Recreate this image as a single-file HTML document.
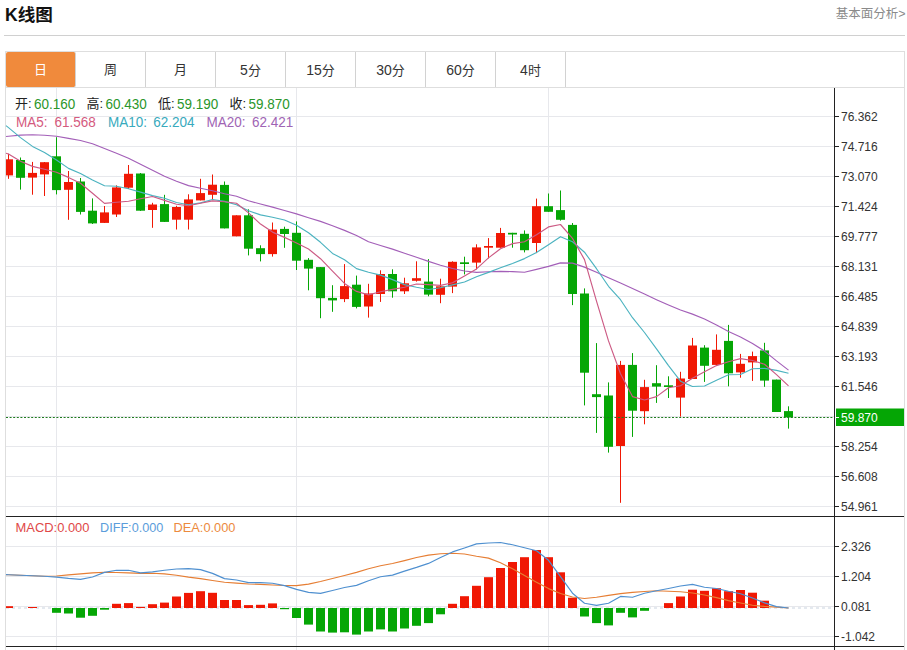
<!DOCTYPE html>
<html><head><meta charset="utf-8"><title>K线图</title>
<style>
html,body{margin:0;padding:0;background:#fff;}
body{width:907px;height:650px;position:relative;overflow:hidden;font-family:"Liberation Sans","Noto Sans CJK SC",sans-serif;}
.title{position:absolute;left:5px;top:3px;font-size:17.6px;font-weight:bold;color:#111;line-height:24px;}
.more{position:absolute;right:1.5px;top:6px;font-size:12.5px;color:#8a8a8a;line-height:16px;}
.hr{position:absolute;left:4px;top:35px;width:901px;height:1px;background:#d0d0d0;}
.box{position:absolute;left:5px;top:51px;width:898px;height:620px;border:1px solid #dedede;}
.tabbar{position:absolute;left:5px;top:87px;width:900px;height:1px;background:#dedede;}
.tab{position:absolute;top:52px;width:69px;height:35px;border-right:1px solid #d2d2d2;text-align:center;line-height:36px;font-size:13px;color:#333;}
.tab.act{background:#f08a3c;color:#fff;width:69px;border-radius:2px;}
.tab .d{font-size:14px;}
svg{position:absolute;left:0;top:0;}
svg text{font-family:"Liberation Sans","Noto Sans CJK SC",sans-serif;}
</style></head><body>
<div class="title">K线图</div>
<div class="more">基本面分析&gt;</div>
<div class="hr"></div>
<div class="box"></div>
<div class="tabbar"></div>
<div class="tab act" style="left:6px">日</div><div class="tab" style="left:76px">周</div><div class="tab" style="left:146px">月</div><div class="tab" style="left:216px"><span class="d">5</span>分</div><div class="tab" style="left:286px"><span class="d">15</span>分</div><div class="tab" style="left:356px"><span class="d">30</span>分</div><div class="tab" style="left:426px"><span class="d">60</span>分</div><div class="tab" style="left:496px"><span class="d">4</span>时</div>
<svg width="907" height="650" viewBox="0 0 907 650">
<defs><clipPath id="cp"><rect x="6" y="88" width="828" height="562"/></clipPath></defs>
<line x1="6" y1="116.5" x2="834" y2="116.5" stroke="#e7e8ec" stroke-width="1"/>
<line x1="6" y1="146.5" x2="834" y2="146.5" stroke="#e7e8ec" stroke-width="1"/>
<line x1="6" y1="176.5" x2="834" y2="176.5" stroke="#e7e8ec" stroke-width="1"/>
<line x1="6" y1="206.5" x2="834" y2="206.5" stroke="#e7e8ec" stroke-width="1"/>
<line x1="6" y1="236.5" x2="834" y2="236.5" stroke="#e7e8ec" stroke-width="1"/>
<line x1="6" y1="266.5" x2="834" y2="266.5" stroke="#e7e8ec" stroke-width="1"/>
<line x1="6" y1="296.5" x2="834" y2="296.5" stroke="#e7e8ec" stroke-width="1"/>
<line x1="6" y1="326.5" x2="834" y2="326.5" stroke="#e7e8ec" stroke-width="1"/>
<line x1="6" y1="356.5" x2="834" y2="356.5" stroke="#e7e8ec" stroke-width="1"/>
<line x1="6" y1="386.5" x2="834" y2="386.5" stroke="#e7e8ec" stroke-width="1"/>
<line x1="6" y1="416.5" x2="834" y2="416.5" stroke="#e7e8ec" stroke-width="1"/>
<line x1="6" y1="446.5" x2="834" y2="446.5" stroke="#e7e8ec" stroke-width="1"/>
<line x1="6" y1="476.5" x2="834" y2="476.5" stroke="#e7e8ec" stroke-width="1"/>
<line x1="6" y1="506.5" x2="834" y2="506.5" stroke="#e7e8ec" stroke-width="1"/>
<line x1="56.5" y1="88" x2="56.5" y2="650" stroke="#e7e8ec" stroke-width="1"/>
<line x1="296.5" y1="88" x2="296.5" y2="650" stroke="#e7e8ec" stroke-width="1"/>
<line x1="548.5" y1="88" x2="548.5" y2="650" stroke="#e7e8ec" stroke-width="1"/>
<line x1="6" y1="546.5" x2="834" y2="546.5" stroke="#e7e8ec" stroke-width="1"/>
<line x1="6" y1="576.5" x2="834" y2="576.5" stroke="#e7e8ec" stroke-width="1"/>
<line x1="6" y1="606.5" x2="834" y2="606.5" stroke="#e7e8ec" stroke-width="1"/>
<line x1="6" y1="636.5" x2="834" y2="636.5" stroke="#e7e8ec" stroke-width="1"/>
<rect x="8" y="153.8" width="1" height="25.0" fill="#f01804"/>
<rect x="6" y="159.3" width="7" height="16.1" fill="#f01804"/>
<rect x="20" y="157.5" width="1" height="32.1" fill="#05a605"/>
<rect x="16" y="160.0" width="9" height="17.8" fill="#05a605"/>
<rect x="32" y="161.9" width="1" height="32.8" fill="#f01804"/>
<rect x="28" y="172.9" width="9" height="4.7" fill="#f01804"/>
<rect x="44" y="162.0" width="1" height="34.0" fill="#f01804"/>
<rect x="40" y="162.2" width="9" height="12.2" fill="#f01804"/>
<rect x="56" y="137.2" width="1" height="57.2" fill="#05a605"/>
<rect x="52" y="156.3" width="9" height="33.8" fill="#05a605"/>
<rect x="68" y="171.0" width="1" height="48.8" fill="#f01804"/>
<rect x="64" y="182.0" width="9" height="7.8" fill="#f01804"/>
<rect x="80" y="178.0" width="1" height="36.5" fill="#05a605"/>
<rect x="76" y="181.5" width="9" height="30.4" fill="#05a605"/>
<rect x="92" y="198.4" width="1" height="25.6" fill="#05a605"/>
<rect x="88" y="210.7" width="9" height="12.7" fill="#05a605"/>
<rect x="104" y="206.0" width="1" height="17.0" fill="#f01804"/>
<rect x="100" y="212.4" width="9" height="10.5" fill="#f01804"/>
<rect x="116" y="185.3" width="1" height="31.7" fill="#f01804"/>
<rect x="112" y="187.4" width="9" height="27.1" fill="#f01804"/>
<rect x="128" y="165.0" width="1" height="24.0" fill="#f01804"/>
<rect x="124" y="173.8" width="9" height="13.9" fill="#f01804"/>
<rect x="140" y="173.0" width="1" height="38.0" fill="#05a605"/>
<rect x="136" y="173.5" width="9" height="37.2" fill="#05a605"/>
<rect x="152" y="202.8" width="1" height="25.0" fill="#f01804"/>
<rect x="148" y="204.5" width="9" height="5.5" fill="#f01804"/>
<rect x="164" y="194.8" width="1" height="27.2" fill="#05a605"/>
<rect x="160" y="204.1" width="9" height="17.8" fill="#05a605"/>
<rect x="176" y="205.8" width="1" height="23.7" fill="#f01804"/>
<rect x="172" y="207.0" width="9" height="12.7" fill="#f01804"/>
<rect x="188" y="194.3" width="1" height="35.2" fill="#f01804"/>
<rect x="184" y="199.4" width="9" height="20.3" fill="#f01804"/>
<rect x="200" y="178.8" width="1" height="21.6" fill="#f01804"/>
<rect x="196" y="193.1" width="9" height="7.3" fill="#f01804"/>
<rect x="212" y="174.5" width="1" height="24.9" fill="#f01804"/>
<rect x="208" y="184.7" width="9" height="10.1" fill="#f01804"/>
<rect x="224" y="181.5" width="1" height="46.9" fill="#05a605"/>
<rect x="220" y="184.9" width="9" height="43.5" fill="#05a605"/>
<rect x="236" y="215.3" width="1" height="21.0" fill="#f01804"/>
<rect x="232" y="215.3" width="9" height="21.0" fill="#f01804"/>
<rect x="248" y="209.3" width="1" height="46.1" fill="#05a605"/>
<rect x="244" y="215.3" width="9" height="33.4" fill="#05a605"/>
<rect x="260" y="245.3" width="1" height="16.1" fill="#05a605"/>
<rect x="256" y="248.2" width="9" height="5.9" fill="#05a605"/>
<rect x="272" y="222.5" width="1" height="34.1" fill="#f01804"/>
<rect x="268" y="229.6" width="9" height="24.5" fill="#f01804"/>
<rect x="284" y="226.7" width="1" height="21.1" fill="#05a605"/>
<rect x="280" y="228.9" width="9" height="5.1" fill="#05a605"/>
<rect x="296" y="221.4" width="1" height="48.6" fill="#05a605"/>
<rect x="292" y="232.8" width="9" height="27.9" fill="#05a605"/>
<rect x="308" y="258.1" width="1" height="32.2" fill="#05a605"/>
<rect x="304" y="259.8" width="9" height="8.8" fill="#05a605"/>
<rect x="320" y="267.0" width="1" height="51.2" fill="#05a605"/>
<rect x="316" y="267.1" width="9" height="31.1" fill="#05a605"/>
<rect x="332" y="285.2" width="1" height="26.6" fill="#05a605"/>
<rect x="328" y="297.9" width="9" height="2.5" fill="#05a605"/>
<rect x="344" y="264.1" width="1" height="38.0" fill="#f01804"/>
<rect x="340" y="286.1" width="9" height="13.0" fill="#f01804"/>
<rect x="356" y="275.6" width="1" height="32.8" fill="#05a605"/>
<rect x="352" y="284.7" width="9" height="22.2" fill="#05a605"/>
<rect x="368" y="283.8" width="1" height="33.8" fill="#f01804"/>
<rect x="364" y="293.5" width="9" height="13.0" fill="#f01804"/>
<rect x="380" y="270.3" width="1" height="31.6" fill="#f01804"/>
<rect x="376" y="274.0" width="9" height="20.0" fill="#f01804"/>
<rect x="392" y="269.3" width="1" height="28.4" fill="#05a605"/>
<rect x="388" y="274.0" width="9" height="17.3" fill="#05a605"/>
<rect x="404" y="277.7" width="1" height="16.3" fill="#f01804"/>
<rect x="400" y="283.3" width="9" height="8.0" fill="#f01804"/>
<rect x="416" y="261.3" width="1" height="20.3" fill="#f01804"/>
<rect x="412" y="278.2" width="9" height="2.6" fill="#f01804"/>
<rect x="428" y="259.1" width="1" height="37.2" fill="#05a605"/>
<rect x="424" y="281.6" width="9" height="13.0" fill="#05a605"/>
<rect x="440" y="278.7" width="1" height="24.5" fill="#f01804"/>
<rect x="436" y="286.3" width="9" height="8.5" fill="#f01804"/>
<rect x="452" y="261.3" width="1" height="31.8" fill="#f01804"/>
<rect x="448" y="261.8" width="9" height="24.8" fill="#f01804"/>
<rect x="464" y="256.7" width="1" height="17.7" fill="#05a605"/>
<rect x="460" y="262.3" width="9" height="1.7" fill="#05a605"/>
<rect x="476" y="244.3" width="1" height="25.1" fill="#f01804"/>
<rect x="472" y="247.4" width="9" height="15.2" fill="#f01804"/>
<rect x="488" y="238.1" width="1" height="20.3" fill="#f01804"/>
<rect x="484" y="246.0" width="9" height="1.7" fill="#f01804"/>
<rect x="500" y="227.9" width="1" height="19.8" fill="#f01804"/>
<rect x="496" y="233.0" width="9" height="14.7" fill="#f01804"/>
<rect x="512" y="232.8" width="1" height="14.9" fill="#05a605"/>
<rect x="508" y="232.8" width="9" height="1.7" fill="#05a605"/>
<rect x="524" y="230.4" width="1" height="22.0" fill="#05a605"/>
<rect x="520" y="233.8" width="9" height="16.4" fill="#05a605"/>
<rect x="536" y="198.6" width="1" height="54.5" fill="#f01804"/>
<rect x="532" y="206.2" width="9" height="36.8" fill="#f01804"/>
<rect x="548" y="193.5" width="1" height="18.3" fill="#05a605"/>
<rect x="544" y="206.2" width="9" height="5.6" fill="#05a605"/>
<rect x="560" y="190.5" width="1" height="30.1" fill="#05a605"/>
<rect x="556" y="210.1" width="9" height="9.7" fill="#05a605"/>
<rect x="572" y="223.0" width="1" height="82.1" fill="#05a605"/>
<rect x="568" y="224.9" width="9" height="69.1" fill="#05a605"/>
<rect x="584" y="288.4" width="1" height="117.0" fill="#05a605"/>
<rect x="580" y="293.5" width="9" height="79.2" fill="#05a605"/>
<rect x="596" y="343.1" width="1" height="89.8" fill="#05a605"/>
<rect x="592" y="394.2" width="9" height="2.9" fill="#05a605"/>
<rect x="608" y="382.4" width="1" height="70.2" fill="#05a605"/>
<rect x="604" y="395.5" width="9" height="51.3" fill="#05a605"/>
<rect x="620" y="360.9" width="1" height="141.9" fill="#f01804"/>
<rect x="616" y="364.9" width="9" height="81.1" fill="#f01804"/>
<rect x="632" y="353.1" width="1" height="83.8" fill="#05a605"/>
<rect x="628" y="364.9" width="9" height="45.8" fill="#05a605"/>
<rect x="644" y="379.8" width="1" height="44.5" fill="#f01804"/>
<rect x="640" y="387.1" width="9" height="24.1" fill="#f01804"/>
<rect x="656" y="365.2" width="1" height="37.7" fill="#05a605"/>
<rect x="652" y="383.2" width="9" height="3.4" fill="#05a605"/>
<rect x="668" y="376.3" width="1" height="21.7" fill="#05a605"/>
<rect x="664" y="385.3" width="9" height="1.7" fill="#05a605"/>
<rect x="680" y="371.8" width="1" height="44.8" fill="#f01804"/>
<rect x="676" y="378.5" width="9" height="19.1" fill="#f01804"/>
<rect x="692" y="337.9" width="1" height="41.1" fill="#f01804"/>
<rect x="688" y="345.5" width="9" height="33.5" fill="#f01804"/>
<rect x="704" y="345.2" width="1" height="36.7" fill="#05a605"/>
<rect x="700" y="347.6" width="9" height="18.2" fill="#05a605"/>
<rect x="716" y="334.4" width="1" height="30.6" fill="#f01804"/>
<rect x="712" y="349.8" width="9" height="15.1" fill="#f01804"/>
<rect x="728" y="324.9" width="1" height="61.4" fill="#05a605"/>
<rect x="724" y="340.9" width="9" height="32.4" fill="#05a605"/>
<rect x="740" y="353.9" width="1" height="23.8" fill="#f01804"/>
<rect x="736" y="363.8" width="9" height="8.6" fill="#f01804"/>
<rect x="752" y="351.6" width="1" height="29.3" fill="#f01804"/>
<rect x="748" y="356.1" width="9" height="6.3" fill="#f01804"/>
<rect x="764" y="342.8" width="1" height="44.0" fill="#05a605"/>
<rect x="760" y="350.4" width="9" height="30.2" fill="#05a605"/>
<rect x="776" y="379.6" width="1" height="32.4" fill="#05a605"/>
<rect x="772" y="379.6" width="9" height="32.4" fill="#05a605"/>
<rect x="788" y="406.3" width="1" height="22.3" fill="#05a605"/>
<rect x="784" y="411.1" width="9" height="6.3" fill="#05a605"/>
<line x1="6" y1="417.5" x2="834" y2="417.5" stroke="#1e7a1e" stroke-width="1" stroke-dasharray="2 1.6"/>
<polyline points="6.0,136.5 8.5,136.2 20.5,135.1 32.5,134.7 44.5,135.3 56.5,136.3 68.5,138.4 80.5,140.5 92.5,143.8 104.5,148.5 116.5,153.3 128.5,158.2 140.5,164.2 152.5,170.3 164.5,176.3 176.5,181.2 188.5,185.6 200.5,188.2 212.5,190.8 224.5,193.7 236.5,196.3 248.5,200.8 260.5,204.0 272.5,207.1 284.5,210.5 296.5,213.9 308.5,217.7 320.5,221.4 332.5,225.8 344.5,230.4 356.5,235.5 368.5,241.8 380.5,245.5 392.5,249.1 404.5,253.2 416.5,257.3 428.5,261.4 440.5,265.3 452.5,268.5 464.5,271.0 476.5,272.4 488.5,271.7 500.5,271.4 512.5,271.6 524.5,272.2 536.5,269.4 548.5,266.4 560.5,262.9 572.5,263.1 584.5,267.1 596.5,272.3 608.5,277.7 620.5,283.1 632.5,288.5 644.5,294.1 656.5,299.7 668.5,305.0 680.5,310.0 692.5,314.1 704.5,319.0 716.5,325.0 728.5,331.6 740.5,337.1 752.5,343.4 764.5,351.1 776.5,360.9 788.5,370.1" fill="none" stroke="#a35fb8" stroke-width="1.15" stroke-linejoin="round"/>
<polyline points="6.0,125.6 8.5,127.6 20.5,137.6 32.5,146.4 44.5,152.6 56.5,160.0 68.5,168.4 80.5,173.5 92.5,179.9 104.5,185.8 116.5,186.3 128.5,188.7 140.5,192.1 152.5,195.6 164.5,198.3 176.5,202.5 188.5,204.7 200.5,202.9 212.5,199.5 224.5,201.4 236.5,204.8 248.5,210.7 260.5,214.9 272.5,217.2 284.5,220.0 296.5,225.3 308.5,232.7 320.5,242.3 332.5,253.4 344.5,259.8 356.5,268.6 368.5,272.3 380.5,275.1 392.5,279.6 404.5,284.6 416.5,287.2 428.5,289.5 440.5,287.7 452.5,284.9 464.5,282.0 476.5,276.8 488.5,272.4 500.5,267.8 512.5,263.5 524.5,258.6 536.5,252.5 548.5,244.7 560.5,236.7 572.5,241.7 584.5,252.2 596.5,268.7 608.5,286.3 620.5,299.7 632.5,317.7 644.5,332.5 656.5,348.9 668.5,365.6 680.5,381.2 692.5,386.5 704.5,386.0 716.5,380.3 728.5,374.8 740.5,374.5 752.5,368.7 764.5,368.4 776.5,370.4 788.5,373.3" fill="none" stroke="#4cb3c0" stroke-width="1.15" stroke-linejoin="round"/>
<polyline points="6.0,153.2 8.5,154.0 20.5,161.3 32.5,166.4 44.5,169.2 56.5,172.3 68.5,177.4 80.5,183.3 92.5,193.2 104.5,203.4 116.5,202.3 128.5,201.2 140.5,198.8 152.5,196.5 164.5,200.4 176.5,204.3 188.5,205.7 200.5,203.2 212.5,200.9 224.5,201.7 236.5,203.2 248.5,212.9 260.5,224.1 272.5,232.1 284.5,237.4 296.5,243.0 308.5,249.0 320.5,258.7 332.5,271.1 344.5,283.4 356.5,291.4 368.5,294.9 380.5,291.8 392.5,289.4 404.5,287.2 416.5,284.0 428.5,284.6 440.5,285.4 452.5,282.8 464.5,276.0 476.5,268.9 488.5,257.9 500.5,248.7 512.5,243.6 524.5,241.7 536.5,234.8 548.5,226.9 560.5,224.5 572.5,238.4 584.5,259.6 596.5,301.2 608.5,340.9 620.5,373.8 632.5,396.6 644.5,400.0 656.5,396.6 668.5,387.7 680.5,385.7 692.5,378.3 704.5,371.7 716.5,365.6 728.5,361.7 740.5,358.6 752.5,360.5 764.5,364.3 776.5,374.6 788.5,385.9" fill="none" stroke="#cc5a84" stroke-width="1.15" stroke-linejoin="round"/>
<line x1="6" y1="608" x2="834" y2="608" stroke="#c9d3df" stroke-width="1" stroke-dasharray="3 3"/>
<rect x="6" y="606.2" width="7" height="1.8" fill="#f01804"/>
<rect x="28" y="607.0" width="9" height="1.0" fill="#f01804"/>
<rect x="52" y="608" width="9" height="4.8" fill="#05a605"/>
<rect x="64" y="608" width="9" height="5.5" fill="#05a605"/>
<rect x="76" y="608" width="9" height="9.7" fill="#05a605"/>
<rect x="88" y="608" width="9" height="7.8" fill="#05a605"/>
<rect x="100" y="608" width="9" height="1.7" fill="#05a605"/>
<rect x="112" y="603.8" width="9" height="4.2" fill="#f01804"/>
<rect x="124" y="603.1" width="9" height="4.9" fill="#f01804"/>
<rect x="136" y="606.9" width="9" height="1.1" fill="#f01804"/>
<rect x="148" y="604.2" width="9" height="3.8" fill="#f01804"/>
<rect x="160" y="602.6" width="9" height="5.4" fill="#f01804"/>
<rect x="172" y="596.5" width="9" height="11.5" fill="#f01804"/>
<rect x="184" y="592.9" width="9" height="15.1" fill="#f01804"/>
<rect x="196" y="591.2" width="9" height="16.8" fill="#f01804"/>
<rect x="208" y="592.8" width="9" height="15.2" fill="#f01804"/>
<rect x="220" y="600.0" width="9" height="8.0" fill="#f01804"/>
<rect x="232" y="600.0" width="9" height="8.0" fill="#f01804"/>
<rect x="244" y="605.1" width="9" height="2.9" fill="#f01804"/>
<rect x="256" y="604.8" width="9" height="3.2" fill="#f01804"/>
<rect x="268" y="603.4" width="9" height="4.6" fill="#f01804"/>
<rect x="280" y="608" width="9" height="1.2" fill="#05a605"/>
<rect x="292" y="608" width="9" height="10.0" fill="#05a605"/>
<rect x="304" y="608" width="9" height="16.6" fill="#05a605"/>
<rect x="316" y="608" width="9" height="23.5" fill="#05a605"/>
<rect x="328" y="608" width="9" height="24.6" fill="#05a605"/>
<rect x="340" y="608" width="9" height="24.3" fill="#05a605"/>
<rect x="352" y="608" width="9" height="26.6" fill="#05a605"/>
<rect x="364" y="608" width="9" height="23.5" fill="#05a605"/>
<rect x="376" y="608" width="9" height="21.4" fill="#05a605"/>
<rect x="388" y="608" width="9" height="23.5" fill="#05a605"/>
<rect x="400" y="608" width="9" height="20.5" fill="#05a605"/>
<rect x="412" y="608" width="9" height="17.8" fill="#05a605"/>
<rect x="424" y="608" width="9" height="15.1" fill="#05a605"/>
<rect x="436" y="608" width="9" height="6.3" fill="#05a605"/>
<rect x="448" y="603.8" width="9" height="4.2" fill="#f01804"/>
<rect x="460" y="596.2" width="9" height="11.8" fill="#f01804"/>
<rect x="472" y="585.8" width="9" height="22.2" fill="#f01804"/>
<rect x="484" y="577.2" width="9" height="30.8" fill="#f01804"/>
<rect x="496" y="568.0" width="9" height="40.0" fill="#f01804"/>
<rect x="508" y="562.0" width="9" height="46.0" fill="#f01804"/>
<rect x="520" y="557.2" width="9" height="50.8" fill="#f01804"/>
<rect x="532" y="550.0" width="9" height="58.0" fill="#f01804"/>
<rect x="544" y="557.2" width="9" height="50.8" fill="#f01804"/>
<rect x="556" y="572.3" width="9" height="35.7" fill="#f01804"/>
<rect x="568" y="597.7" width="9" height="10.3" fill="#f01804"/>
<rect x="580" y="608" width="9" height="8.5" fill="#05a605"/>
<rect x="592" y="608" width="9" height="15.1" fill="#05a605"/>
<rect x="604" y="608" width="9" height="17.4" fill="#05a605"/>
<rect x="616" y="608" width="9" height="4.8" fill="#05a605"/>
<rect x="628" y="608" width="9" height="9.4" fill="#05a605"/>
<rect x="640" y="608" width="9" height="2.8" fill="#05a605"/>
<rect x="664" y="603.1" width="9" height="4.9" fill="#f01804"/>
<rect x="676" y="596.5" width="9" height="11.5" fill="#f01804"/>
<rect x="688" y="589.7" width="9" height="18.3" fill="#f01804"/>
<rect x="700" y="590.8" width="9" height="17.2" fill="#f01804"/>
<rect x="712" y="588.2" width="9" height="19.8" fill="#f01804"/>
<rect x="724" y="591.2" width="9" height="16.8" fill="#f01804"/>
<rect x="736" y="590.0" width="9" height="18.0" fill="#f01804"/>
<rect x="748" y="592.7" width="9" height="15.3" fill="#f01804"/>
<rect x="760" y="600.7" width="9" height="7.3" fill="#f01804"/>
<polyline points="6.0,574.6 8.5,574.7 20.5,575.3 32.5,575.8 44.5,576.3 56.5,576.0 68.5,574.9 80.5,573.9 92.5,572.9 104.5,572.3 116.5,572.5 128.5,572.9 140.5,573.4 152.5,573.2 164.5,573.9 176.5,575.3 188.5,577.1 200.5,578.6 212.5,580.5 224.5,582.3 236.5,583.1 248.5,584.0 260.5,584.4 272.5,585.0 284.5,585.5 296.5,585.6 308.5,584.1 320.5,581.5 332.5,578.5 344.5,575.5 356.5,572.4 368.5,568.8 380.5,565.7 392.5,563.5 404.5,560.6 416.5,557.5 428.5,555.1 440.5,553.7 452.5,553.2 464.5,554.0 476.5,556.2 488.5,558.1 500.5,562.8 512.5,568.8 524.5,575.6 536.5,582.3 548.5,588.6 560.5,593.5 572.5,597.0 584.5,598.5 596.5,597.2 608.5,595.4 620.5,593.6 632.5,592.4 644.5,591.5 656.5,590.8 668.5,591.2 680.5,591.7 692.5,593.0 704.5,595.0 716.5,597.6 728.5,600.6 740.5,603.0 752.5,605.2 764.5,606.4 776.5,607.1 788.5,608.0" fill="none" stroke="#e67e34" stroke-width="1.15" stroke-linejoin="round"/>
<polyline points="6.0,574.6 8.5,574.7 20.5,575.3 32.5,575.8 44.5,576.3 56.5,577.1 68.5,578.4 80.5,579.4 92.5,577.0 104.5,572.4 116.5,570.3 128.5,570.3 140.5,572.9 152.5,571.9 164.5,570.3 176.5,569.0 188.5,568.6 200.5,569.6 212.5,573.4 224.5,578.6 236.5,580.0 248.5,582.6 260.5,582.6 272.5,583.3 284.5,585.6 296.5,589.4 308.5,592.4 320.5,593.4 332.5,590.5 344.5,587.5 356.5,585.4 368.5,580.7 380.5,576.8 392.5,575.1 404.5,571.1 416.5,567.4 428.5,563.4 440.5,557.4 452.5,551.9 464.5,548.0 476.5,543.9 488.5,543.0 500.5,542.5 512.5,544.8 524.5,547.8 536.5,550.8 548.5,560.3 560.5,576.7 572.5,593.2 584.5,603.2 596.5,605.4 608.5,603.3 620.5,596.4 632.5,597.3 644.5,593.3 656.5,590.8 668.5,588.5 680.5,586.0 692.5,584.4 704.5,587.2 716.5,588.5 728.5,591.3 740.5,593.8 752.5,598.0 764.5,602.9 776.5,606.6 788.5,608.0" fill="none" stroke="#4f90d0" stroke-width="1.15" stroke-linejoin="round"/>
<line x1="834.5" y1="88" x2="834.5" y2="650" stroke="#222" stroke-width="1"/>
<line x1="6" y1="516.5" x2="904" y2="516.5" stroke="#222" stroke-width="1"/>
<line x1="6" y1="646.5" x2="904" y2="646.5" stroke="#222" stroke-width="1"/>
<line x1="835" y1="116.5" x2="839" y2="116.5" stroke="#222" stroke-width="1"/>
<line x1="835" y1="146.5" x2="839" y2="146.5" stroke="#222" stroke-width="1"/>
<line x1="835" y1="176.5" x2="839" y2="176.5" stroke="#222" stroke-width="1"/>
<line x1="835" y1="206.5" x2="839" y2="206.5" stroke="#222" stroke-width="1"/>
<line x1="835" y1="236.5" x2="839" y2="236.5" stroke="#222" stroke-width="1"/>
<line x1="835" y1="266.5" x2="839" y2="266.5" stroke="#222" stroke-width="1"/>
<line x1="835" y1="296.5" x2="839" y2="296.5" stroke="#222" stroke-width="1"/>
<line x1="835" y1="326.5" x2="839" y2="326.5" stroke="#222" stroke-width="1"/>
<line x1="835" y1="356.5" x2="839" y2="356.5" stroke="#222" stroke-width="1"/>
<line x1="835" y1="386.5" x2="839" y2="386.5" stroke="#222" stroke-width="1"/>
<line x1="835" y1="446.5" x2="839" y2="446.5" stroke="#222" stroke-width="1"/>
<line x1="835" y1="476.5" x2="839" y2="476.5" stroke="#222" stroke-width="1"/>
<line x1="835" y1="506.5" x2="839" y2="506.5" stroke="#222" stroke-width="1"/>
<line x1="835" y1="546.5" x2="839" y2="546.5" stroke="#222" stroke-width="1"/>
<line x1="835" y1="576.5" x2="839" y2="576.5" stroke="#222" stroke-width="1"/>
<line x1="835" y1="606.5" x2="839" y2="606.5" stroke="#222" stroke-width="1"/>
<line x1="835" y1="636.5" x2="839" y2="636.5" stroke="#222" stroke-width="1"/>
<rect x="836" y="408.5" width="68" height="17.5" fill="#05a605"/>
<line x1="835" y1="417.5" x2="839" y2="417.5" stroke="#fff" stroke-width="1"/>
<text x="841" y="120.7" font-size="12" fill="#333">76.362</text>
<text x="841" y="150.7" font-size="12" fill="#333">74.716</text>
<text x="841" y="180.7" font-size="12" fill="#333">73.070</text>
<text x="841" y="210.7" font-size="12" fill="#333">71.424</text>
<text x="841" y="240.7" font-size="12" fill="#333">69.777</text>
<text x="841" y="270.7" font-size="12" fill="#333">68.131</text>
<text x="841" y="300.7" font-size="12" fill="#333">66.485</text>
<text x="841" y="330.7" font-size="12" fill="#333">64.839</text>
<text x="841" y="360.7" font-size="12" fill="#333">63.193</text>
<text x="841" y="390.7" font-size="12" fill="#333">61.546</text>
<text x="841" y="450.7" font-size="12" fill="#333">58.254</text>
<text x="841" y="480.7" font-size="12" fill="#333">56.608</text>
<text x="841" y="510.7" font-size="12" fill="#333">54.961</text>
<text x="841" y="550.7" font-size="12" fill="#333">2.326</text>
<text x="841" y="580.7" font-size="12" fill="#333">1.204</text>
<text x="841" y="610.7" font-size="12" fill="#333">0.081</text>
<text x="841" y="640.7" font-size="12" fill="#333">-1.042</text>
<text x="841" y="421.7" font-size="12" fill="#fff">59.870</text>
<text x="15" y="108" font-size="13" fill="#222">开:</text>
<text x="34" y="109.2" font-size="13.5" fill="#2a962a" transform="matrix(1,0,0,1.07,0,-7.64)">60.160</text>
<text x="86.5" y="108" font-size="13" fill="#222">高:</text>
<text x="105.5" y="109.2" font-size="13.5" fill="#2a962a" transform="matrix(1,0,0,1.07,0,-7.64)">60.430</text>
<text x="158" y="108" font-size="13" fill="#222">低:</text>
<text x="177" y="109.2" font-size="13.5" fill="#2a962a" transform="matrix(1,0,0,1.07,0,-7.64)">59.190</text>
<text x="229.5" y="108" font-size="13" fill="#222">收:</text>
<text x="248.5" y="109.2" font-size="13.5" fill="#2a962a" transform="matrix(1,0,0,1.07,0,-7.64)">59.870</text>
<text x="16" y="127.2" font-size="13.5" fill="#d45a7e" transform="matrix(1,0,0,1.07,0,-8.90)">MA5:</text>
<text x="54.5" y="127.2" font-size="13.5" fill="#d45a7e" transform="matrix(1,0,0,1.07,0,-8.90)">61.568</text>
<text x="108" y="127.2" font-size="13.5" fill="#38aabd" transform="matrix(1,0,0,1.07,0,-8.90)">MA10:</text>
<text x="153.3" y="127.2" font-size="13.5" fill="#38aabd" transform="matrix(1,0,0,1.07,0,-8.90)">62.204</text>
<text x="206.5" y="127.2" font-size="13.5" fill="#a064b4" transform="matrix(1,0,0,1.07,0,-8.90)">MA20:</text>
<text x="252" y="127.2" font-size="13.5" fill="#a064b4" transform="matrix(1,0,0,1.07,0,-8.90)">62.421</text>
<text x="15.5" y="532" font-size="12.8" fill="#e04848" textLength="74" lengthAdjust="spacingAndGlyphs">MACD:0.000</text>
<text x="100" y="532" font-size="12.8" fill="#5b9ddb" textLength="63.3" lengthAdjust="spacingAndGlyphs">DIFF:0.000</text>
<text x="173.5" y="532" font-size="12.8" fill="#ec8a3e" textLength="62" lengthAdjust="spacingAndGlyphs">DEA:0.000</text>
</svg>
</body></html>
